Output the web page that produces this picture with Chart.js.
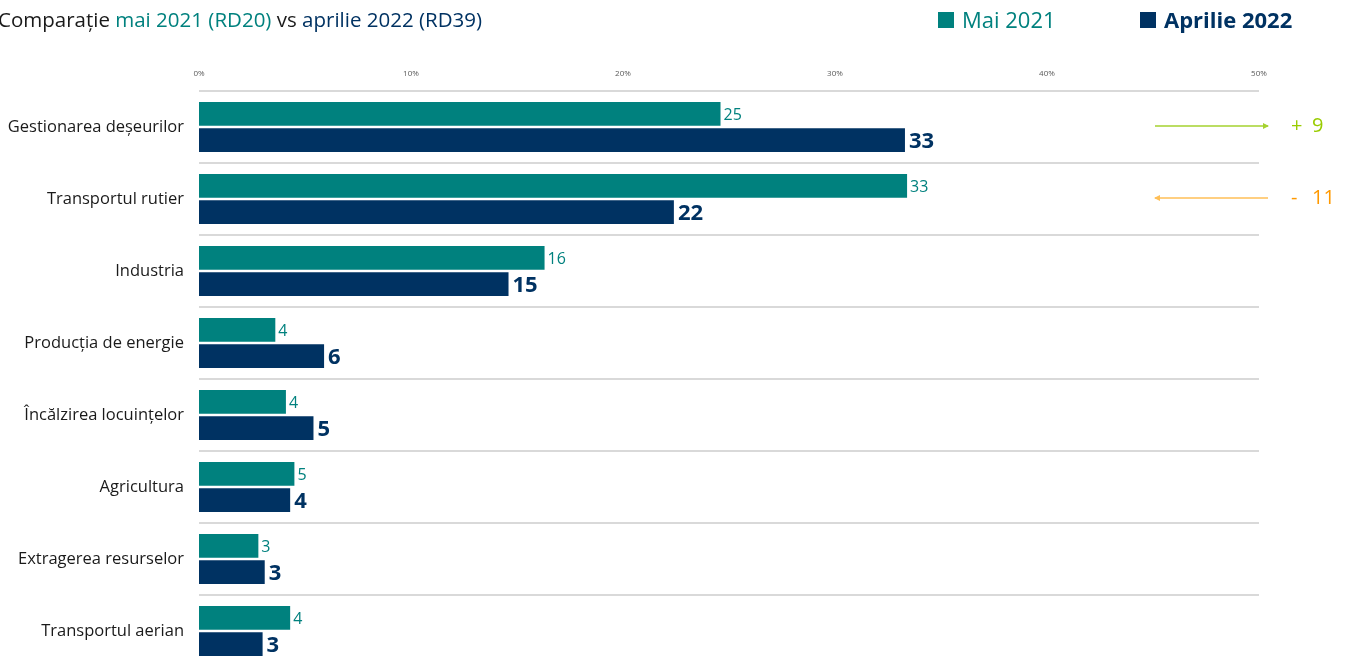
<!DOCTYPE html>
<html><head><meta charset="utf-8">
<script src="https://cdn.jsdelivr.net/npm/chart.js@4/dist/chart.umd.min.js"></script>
<style>
html,body{margin:0;padding:0;background:#fff;overflow:hidden;}
#wrap{position:relative;width:1350px;height:664px;overflow:hidden;}
#c{position:absolute;left:0;top:0;width:1350px;height:680px;}
.sub{position:absolute;left:-2px;top:5px;font-family:"Open Sans",sans-serif;font-size:20.5px;color:#1a1a1a;white-space:nowrap;}
.leg{position:absolute;top:4px;font-family:"Open Sans",sans-serif;font-size:22px;white-space:nowrap;}
.sq{display:inline-block;width:16px;height:16px;vertical-align:0px;margin-right:8px;}
</style></head>
<body>
<div id="wrap">
<canvas id="c" width="1350" height="680"></canvas>
<div class="sub">Comparație <span style="color:#00817e">mai 2021 (RD20)</span> vs <span style="color:#003262">aprilie 2022 (RD39)</span></div>
<div class="leg" style="left:938px;color:#00817e"><span class="sq" style="background:#00817e"></span>Mai 2021</div>
<div class="leg" style="left:1140px;color:#003262;font-weight:bold"><span class="sq" style="background:#003262"></span>Aprilie 2022</div>
</div>
<script>
const categories = ["Gestionarea deșeurilor","Transportul rutier","Industria","Producția de energie","Încălzirea locuințelor","Agricultura","Extragerea resurselor","Transportul aerian"];
const mai2021 = [24.6, 33.4, 16.3, 3.6, 4.1, 4.5, 2.8, 4.3];
const aprilie2022 = [33.3, 22.4, 14.6, 5.9, 5.4, 4.3, 3.1, 3.0];
const seriesNames = ["Mai 2021","Aprilie 2022"];
const xTicks = [0,10,20,30,40,50];
const changeCategories = [0, 1];
const changeSigns = ["+", "-"];
const changeValues = [9, 11];

const TEAL = "#00817e", NAVY = "#003262";

const labelPlugin = {
  id: "labels",
  afterDatasetsDraw(chart) {
    const ctx = chart.ctx;
    ctx.save();
    chart.data.datasets.forEach((ds, di) => {
      const meta = chart.getDatasetMeta(di);
      meta.data.forEach((bar, i) => {
        const v = Math.round(ds.data[i]);
        ctx.textBaseline = "middle";
        ctx.textAlign = "left";
        if (di === 0) {
          ctx.font = "16px 'Open Sans', sans-serif";
          ctx.fillStyle = TEAL;
          ctx.fillText(String(v), bar.x + 3, bar.y + 2);
        } else {
          ctx.font = "bold 22px 'Open Sans', sans-serif";
          ctx.fillStyle = NAVY;
          ctx.fillText(String(v), bar.x + 4, bar.y + 2);
        }
      });
    });
    // change annotations
    const ys = chart.scales.y;
    changeCategories.forEach((ci, k) => {
      const y = ys.getPixelForValue(ci) - 1;
      const x0 = 1155, x1 = 1268;
      const up = changeSigns[k] === "+";
      const lineCol = up ? "#a5d22f" : "#ffbf57";
      const txtCol = up ? "#99cc00" : "#ff9900";
      ctx.strokeStyle = lineCol;
      ctx.fillStyle = lineCol;
      ctx.lineWidth = 1.5;
      ctx.beginPath();
      ctx.moveTo(x0, y); ctx.lineTo(x1, y); ctx.stroke();
      ctx.beginPath();
      if (up) { ctx.moveTo(x1 + 1, y); ctx.lineTo(x1 - 5, y - 3); ctx.lineTo(x1 - 5, y + 3); }
      else { ctx.moveTo(x0 - 1, y); ctx.lineTo(x0 + 5, y - 3); ctx.lineTo(x0 + 5, y + 3); }
      ctx.closePath(); ctx.fill();
      ctx.font = "20px 'Open Sans', sans-serif";
      ctx.fillStyle = txtCol;
      ctx.textAlign = "left";
      ctx.textBaseline = "middle";
      ctx.fillText(changeSigns[k], 1291, y);
      ctx.fillText(String(changeValues[k]), 1312, y);
    });
    ctx.restore();
  }
};

new Chart(document.getElementById("c"), {
  type: "bar",
  data: {
    labels: categories,
    datasets: [
      { label: seriesNames[0], data: mai2021, backgroundColor: TEAL, categoryPercentage: 0.73, barPercentage: 0.91 },
      { label: seriesNames[1], data: aprilie2022, backgroundColor: NAVY, categoryPercentage: 0.73, barPercentage: 0.91 }
    ]
  },
  options: {
    indexAxis: "y",
    responsive: false,
    maintainAspectRatio: false,
    animation: false,
    layout: { padding: { top: 50, right: 91, bottom: 13, left: 0 } },
    plugins: { legend: { display: false }, tooltip: { enabled: false } },
    scales: {
      x: {
        position: "top",
        min: 0, max: 50,
        afterBuildTicks(s) { s.ticks = xTicks.map(v => ({ value: v })); },
        afterFit(s) { s.height = 41; s.paddingLeft = 0; s.paddingRight = 0; },
        grid: { display: false, drawTicks: false },
        border: { display: false },
        ticks: { padding: 12, color: "#595959", font: { size: 8, family: "'Open Sans', sans-serif" }, callback: v => v + "%" }
      },
      y: {
        afterFit(s) { s.width = 199; s.paddingTop = 0; s.paddingBottom = 0; },
        grid: { offset: true, color: "#d9d9d9", lineWidth: 2, drawTicks: false },
        border: { display: false },
        ticks: { padding: 15, color: "#1a1a1a", font: { size: 16.5, family: "'Open Sans', sans-serif" } }
      }
    }
  },
  plugins: [labelPlugin]
});
</script>
</body></html>
